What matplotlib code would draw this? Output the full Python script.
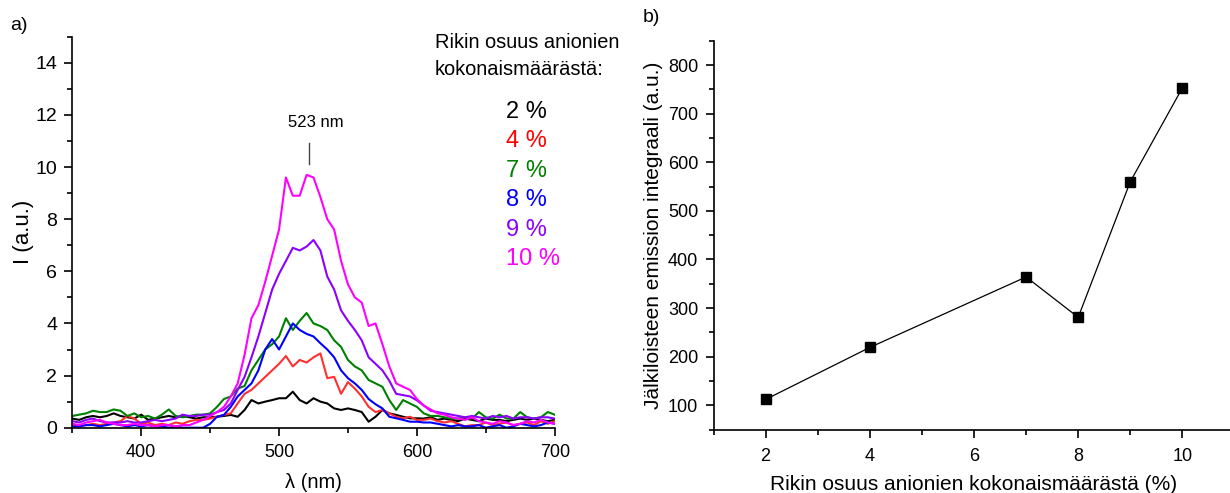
import matplotlib
matplotlib.use("Agg")
import matplotlib.pyplot as plt
from matplotlib.ticker import MultipleLocator

plt.rcParams['font.family'] = ['Liberation Sans', 'DejaVu Sans']

# ---------------- data ----------------
wavelength = list(range(350, 701, 5))

s2 = [0.35, 0.3, 0.4, 0.45, 0.4, 0.45, 0.55, 0.45, 0.4, 0.35, 0.5, 0.3, 0.35, 0.4, 0.45, 0.4, 0.45, 0.4, 0.35, 0.4,
      0.4, 0.42, 0.45, 0.49, 0.42, 0.68, 1.06, 0.93, 1.0, 1.06, 1.13, 1.13, 1.38, 1.06, 0.93, 1.13, 1.0, 0.93, 0.74, 0.68,
      0.74, 0.68, 0.6, 0.23, 0.42, 0.68, 0.55, 0.49, 0.42, 0.36, 0.36, 0.35, 0.4, 0.3, 0.35, 0.3, 0.25, 0.35, 0.3, 0.25,
      0.35, 0.3, 0.3, 0.25, 0.3, 0.35, 0.3, 0.35, 0.3, 0.25, 0.3]
s4 = [0.1, 0.05, 0.1, 0.15, 0.1, 0.15, 0.2, 0.25, 0.45, 0.35, 0.15, 0.2, 0.1, 0.15, 0.1, 0.2, 0.15, 0.25, 0.3, 0.3,
      0.35, 0.42, 0.49, 0.55, 0.93, 1.3, 1.45, 1.7, 1.95, 2.2, 2.45, 2.75, 2.35, 2.6, 2.5, 2.7, 2.85, 1.9, 1.95, 1.3,
      1.75, 1.5, 1.2, 0.8, 0.6, 0.68, 0.55, 0.42, 0.36, 0.42, 0.3, 0.3, 0.35, 0.25, 0.2, 0.25, 0.15, 0.05, 0.1, 0.1,
      0.2, 0.1, 0.15, 0.2, 0.1, 0.15, 0.2, 0.1, 0.25, 0.15, 0.25]
s7 = [0.45, 0.5, 0.55, 0.65, 0.6, 0.6, 0.7, 0.65, 0.45, 0.55, 0.4, 0.45, 0.35, 0.5, 0.7, 0.45, 0.4, 0.45, 0.5, 0.5,
      0.55, 0.8, 1.1, 1.2, 1.5, 1.6, 2.2, 2.6, 3.0, 3.2, 3.5, 4.2, 3.75, 4.1, 4.4, 4.0, 3.9, 3.75, 3.35, 3.1,
      2.6, 2.35, 2.2, 1.83, 1.7, 1.57, 1.06, 0.68, 1.06, 0.93, 0.8, 0.55, 0.45, 0.45, 0.4, 0.35, 0.35, 0.4, 0.35, 0.6,
      0.4, 0.35, 0.5, 0.35, 0.35, 0.6, 0.4, 0.35, 0.4, 0.6, 0.5]
s8 = [0.05, 0.05, 0.1, 0.1, 0.05, 0.1, 0.15, 0.1, 0.05, 0.1, 0.05, 0.1, 0.05, 0.05, 0.0, 0.05, 0.0, 0.0, 0.0, 0.0,
      0.15, 0.42, 0.49, 0.8, 1.2, 1.45, 1.7, 2.2, 3.0, 3.4, 3.0, 3.5, 4.0, 3.75, 3.6, 3.5, 3.24, 3.0, 2.7, 2.2,
      1.9, 1.7, 1.45, 1.1, 0.9, 0.74, 0.42, 0.36, 0.3, 0.23, 0.23, 0.2, 0.2, 0.15, 0.1, 0.05, 0.1, 0.05, 0.05, 0.1,
      0.0, 0.05, 0.1, 0.0, 0.05, 0.15, 0.1, 0.05, 0.1, 0.2, 0.15]
s9 = [0.25, 0.2, 0.3, 0.35, 0.25, 0.2, 0.2, 0.2, 0.25, 0.2, 0.2, 0.25, 0.3, 0.25, 0.3, 0.35, 0.5, 0.45, 0.45, 0.5,
      0.5, 0.6, 0.68, 0.93, 1.45, 1.95, 2.7, 3.5, 4.4, 5.3, 5.9, 6.4, 6.9, 6.8, 6.95, 7.2, 6.8, 5.8, 5.3, 4.5,
      4.1, 3.75, 3.35, 2.7, 2.45, 2.2, 1.8, 1.3, 1.25, 1.2, 1.05, 0.85, 0.65, 0.6, 0.55, 0.5, 0.45, 0.4, 0.45, 0.4,
      0.35, 0.45, 0.4, 0.45, 0.35, 0.4, 0.4, 0.35, 0.4, 0.4, 0.35]
s10 = [0.15, 0.1, 0.2, 0.25, 0.3, 0.2, 0.15, 0.1, 0.1, 0.15, 0.1, 0.1, 0.05, 0.1, 0.1, 0.05, 0.1, 0.1, 0.2, 0.3,
       0.45, 0.6, 0.8, 1.2, 1.7, 2.8, 4.2, 4.7, 5.6, 6.6, 7.6, 9.6, 8.9, 8.9, 9.7, 9.6, 8.85, 8.0, 7.6, 6.4,
       5.5, 5.0, 4.8, 3.9, 4.0, 3.2, 2.35, 1.7, 1.57, 1.45, 1.1, 0.85, 0.7, 0.55, 0.5, 0.4, 0.35, 0.3, 0.4, 0.25,
       0.2, 0.15, 0.25, 0.2, 0.1, 0.15, 0.25, 0.2, 0.3, 0.2, 0.15]

series_labels = ['2 %', '4 %', '7 %', '8 %', '9 %', '10 %']
series_values = [s2, s4, s7, s8, s9, s10]
line_colors = ['#000000', '#FF3030', '#008000', '#0000FF', '#8B00FF', '#FF00FF']
label_colors = ['#000000', '#FF0000', '#008000', '#0000FF', '#8B00FF', '#FF00FF']

peak_wavelength = 522
peak_label = '523 nm'

sulfur_pct = [2, 4, 7, 8, 9, 10]
integral = [112, 219, 364, 281, 560, 753]

# ---------------- figure ----------------
W, H = 1230, 493
fig = plt.figure(figsize=(W / 100, H / 100), dpi=100)


def fx(px):
    return px / W


def fy(py):
    return 1 - py / H


def style_axes(ax):
    for s in ['top', 'right']:
        ax.spines[s].set_visible(False)
    for s in ['left', 'bottom']:
        ax.spines[s].set_linewidth(1.2)
    ax.tick_params(which='major', direction='out', length=6, width=1.2)
    ax.tick_params(which='minor', direction='out', length=3.5, width=1.2)


# left panel
axL = fig.add_axes([fx(72.3), fy(427.7), fx(554.7 - 72.3), (427.7 - 36.7) / H])
for vals, c in zip(series_values, line_colors):
    axL.plot(wavelength, vals, color=c, lw=1.5)
axL.set_xlim(350, 700)
axL.set_ylim(0, 15)
axL.xaxis.set_major_locator(MultipleLocator(100))
axL.xaxis.set_minor_locator(MultipleLocator(50))
axL.yaxis.set_major_locator(MultipleLocator(2))
axL.yaxis.set_minor_locator(MultipleLocator(1))
style_axes(axL)
axL.tick_params(axis='y', which='major', labelsize=14, pad=5)
axL.tick_params(axis='x', which='major', labelsize=13, pad=6)
axL.set_xlabel('λ (nm)', fontsize=14.5)
axL.set_ylabel('I (a.u.)', fontsize=16)
axL.xaxis.set_label_coords(0.499, -0.116)
axL.yaxis.set_label_coords(-0.08, 0.5)

axL.plot([peak_wavelength, peak_wavelength], [10.1, 10.93], color='#444444', lw=1.0)
axL.text(peak_wavelength + 4.5, 11.53, peak_label, fontsize=12, ha='center', va='baseline')

# legend-like text
fig.text(fx(435), fy(48), 'Rikin osuus anionien', fontsize=14.4, va='baseline', ha='left')
fig.text(fx(435), fy(75), 'kokonaismäärästä:', fontsize=14.4, va='baseline', ha='left')
base_y = 118
for i, (lab, c) in enumerate(zip(series_labels, label_colors)):
    fig.text(fx(506), fy(base_y + i * 29.4), lab, color=c, fontsize=17, va='baseline', ha='left')

fig.text(fx(10), fy(25), 'a)', fontsize=14, va='center', ha='left')
fig.text(fx(643), fy(18), 'b)', fontsize=14, va='center', ha='left')

# right panel
axR = fig.add_axes([fx(713.5), fy(429.6), fx(521), (429.6 - 40.7) / H])
axR.plot(sulfur_pct, integral, color='black', lw=0.9, marker='s', markersize=6.8,
         markerfacecolor='black', markeredgecolor='black')
axR.set_xlim(1, 11)
axR.set_ylim(50, 850)
axR.xaxis.set_minor_locator(MultipleLocator(1))
axR.yaxis.set_minor_locator(MultipleLocator(50))
style_axes(axR)
axR.tick_params(axis='y', which='major', labelsize=13, pad=5)
axR.tick_params(axis='x', which='major', labelsize=13, pad=7)
axR.set_yticks([100, 200, 300, 400, 500, 600, 700, 800])
axR.set_xticks([2, 4, 6, 8, 10])
axR.set_xlabel('Rikin osuus anionien kokonaismäärästä (%)', fontsize=15)
axR.set_ylabel('Jälkiloisteen emission integraali (a.u.)', fontsize=15)
axR.xaxis.set_label_coords(0.5, -0.116)
axR.yaxis.set_label_coords(-0.097, 0.5)

fig.savefig('out.png', dpi=100)
